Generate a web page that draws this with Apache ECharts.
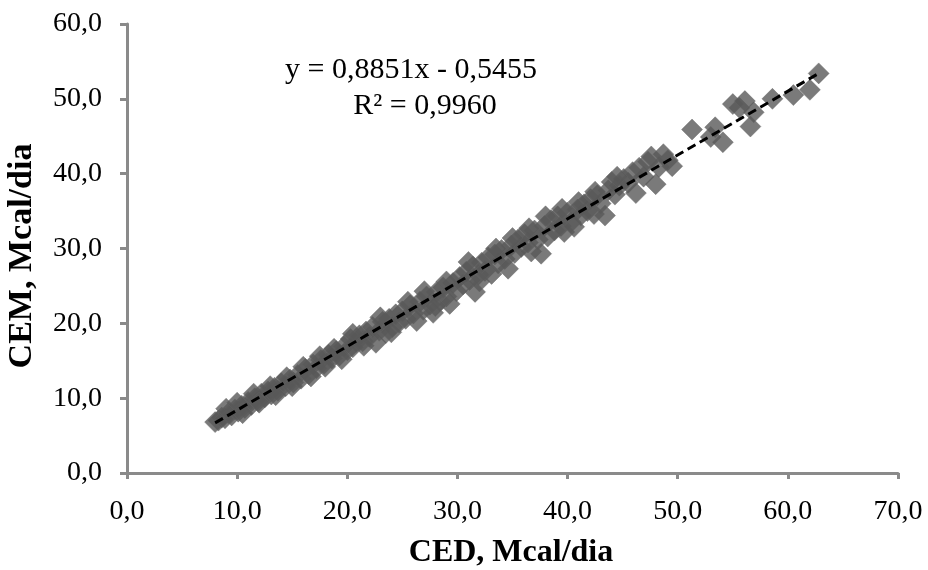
<!DOCTYPE html>
<html>
<head>
<meta charset="utf-8">
<script src="https://cdn.jsdelivr.net/npm/echarts@6/dist/echarts.min.js"></script>
<style>html,body{margin:0;padding:0;background:#fff}#c{width:928px;height:570px}</style>
</head>
<body>
<div id="c"></div>
<script>
// CED (x) and CEM (y), Mcal/dia
const cedValues = [
  8.0,8.3,8.6,8.9,9.2,9.5,9.8,10.1,10.4,10.7,11.0,11.3,11.6,11.9,12.2,12.5,12.8,13.1,13.4,13.7,14.0,14.4,14.8,15.1,15.5,15.8,16.2,16.5,16.9,17.2,17.6,17.9,18.3,18.6,19.0,19.3,19.7,20.0,
  20.3,20.5,20.8,21.1,21.4,21.7,22.0,22.3,22.6,22.9,23.2,23.5,23.8,24.1,24.4,24.7,25.0,25.3,25.7,26.0,26.3,26.6,26.9,27.2,27.5,27.8,28.1,28.4,28.7,29.0,29.3,29.6,29.9,30.2,
  30.5,30.8,31.1,31.4,31.6,31.9,32.2,32.5,32.8,33.1,33.4,33.7,34.0,34.3,34.6,34.9,35.2,35.5,35.8,36.1,36.4,36.7,37.0,37.3,37.6,37.9,38.2,38.5,38.8,39.1,39.4,39.7,40.0,40.3,40.6,40.9,41.2,41.5,41.8,
  42.1,42.4,42.7,43.0,43.4,43.7,44.0,44.3,44.7,45.1,45.5,45.9,46.2,46.5,46.9,47.3,47.6,48.0,48.3,48.7,49.1,49.5,
  51.3,53.0,53.4,54.1,55.0,55.6,56.1,56.6,56.9,58.6,60.5,62.0,62.8,
  9.0,10.0,10.5,11.5,12.0,13.0,13.5,14.5,15.0,16.0,16.7,17.5,18.0,18.8,19.5,20.5,21.5,23.0,24.0,25.5,27.0,28.0,29.0,31.0,32.0,33.5,35.0,36.5,38.0,39.5,41.0,42.5,44.5
];
const cemValues = [
  6.8,7.0,7.4,7.3,8.0,7.7,8.5,8.2,9.0,8.7,9.5,9.1,10.0,9.6,10.6,10.1,10.9,10.5,11.4,11.0,12.0,11.6,12.5,12.1,13.1,12.6,13.9,13.2,14.5,14.0,15.1,14.6,15.8,15.3,16.3,15.7,16.9,16.4,
  17.9,16.8,17.5,18.4,17.6,18.9,18.2,19.5,17.4,19.0,20.2,18.7,20.6,19.5,21.2,20.1,21.6,20.6,22.4,21.3,20.3,22.9,21.8,23.6,22.5,21.4,24.2,23.0,24.8,23.6,22.6,25.4,24.3,26.2,
  25.2,26.9,25.8,27.6,24.2,26.5,28.1,27.0,28.8,26.6,29.2,28.0,29.8,28.6,27.3,30.4,29.4,31.2,30.2,31.9,30.8,29.6,32.4,31.2,29.3,33.0,31.6,33.8,32.4,34.3,33.0,32.2,34.8,33.5,32.9,35.2,34.4,35.9,35.0,
  36.6,34.6,37.1,36.0,34.4,37.8,38.9,37.2,38.4,39.3,38.8,40.2,37.4,40.8,39.6,41.6,42.3,38.6,40.9,42.6,41.8,41.0,
  45.9,44.9,46.2,44.2,49.3,48.8,49.7,46.3,48.2,50.0,50.5,51.2,53.4,
  8.6,9.4,8.0,10.6,9.4,11.6,10.4,12.8,11.6,14.2,12.9,15.6,14.2,16.6,15.2,18.6,17.0,20.8,18.8,22.9,24.3,22.3,25.6,28.2,25.6,30.0,31.4,32.7,34.3,35.3,36.2,37.6,39.6
];
const xTickLabels = ['0,0','10,0','20,0','30,0','40,0','50,0','60,0','70,0'];
const yTickLabels = ['0,0','10,0','20,0','30,0','40,0','50,0','60,0'];
// dashed trend line as drawn in the picture (end points)
const trendX = [8.0, 62.8];
const trendY = [6.7, 53.4];
const equationText = 'y = 0,8851x - 0,5455';
const r2Text = 'R² = 0,9960';
const xTitle = 'CED, Mcal/dia';
const yTitle = 'CEM, Mcal/dia';

const points = cedValues.map((x, i) => [x, cemValues[i]]);
const trend = trendX.map((x, i) => [x, trendY[i]]);

const axisColor = '#8a8a8a';
const font = '"Liberation Serif", "Times New Roman", serif';

const chart = echarts.init(document.getElementById('c'), null, {renderer: 'canvas'});
chart.setOption({
  animation: false,
  grid: {left: 127, right: 30, top: 24, bottom: 97},
  xAxis: {
    type: 'value', min: 0, max: 70, interval: 10,
    axisLine: {show: true, lineStyle: {color: axisColor, width: 3}},
    axisTick: {show: true, length: 6, lineStyle: {color: axisColor, width: 3}},
    axisLabel: {fontFamily: font, fontSize: 28, color: '#000', margin: 25,
      formatter: (v) => xTickLabels[Math.round(v / 10)]},
    splitLine: {show: false}
  },
  yAxis: {
    type: 'value', min: 0, max: 60, interval: 10,
    axisLine: {show: true, lineStyle: {color: axisColor, width: 3}},
    axisTick: {show: true, length: 7, lineStyle: {color: axisColor, width: 3}},
    axisLabel: {fontFamily: font, fontSize: 28, color: '#000', margin: 25,
      formatter: (v) => yTickLabels[Math.round(v / 10)]},
    splitLine: {show: false}
  },
  series: [
    {
      type: 'scatter', data: points, symbol: 'diamond', symbolSize: 21,
      itemStyle: {color: '#595959', borderColor: '#656565', borderWidth: 0.5}
    },
    {
      type: 'line', data: trend, symbol: 'none', z: 5,
      lineStyle: {color: '#000', width: 3, type: [9, 5]}
    }
  ],
  graphic: [
    {type: 'text', x: 411, y: 70,
      style: {text: equationText, fontFamily: font, fontSize: 30, fill: '#000', align: 'center', verticalAlign: 'middle'}},
    {type: 'text', x: 425, y: 106,
      style: {text: r2Text, fontFamily: font, fontSize: 30, fill: '#000', align: 'center', verticalAlign: 'middle'}},
    {type: 'text', x: 511, y: 553,
      style: {text: xTitle, fontFamily: font, fontWeight: 'bold', fontSize: 32, fill: '#000', align: 'center', verticalAlign: 'middle'}},
    {type: 'text', x: 22, y: 256, rotation: Math.PI / 2,
      style: {text: yTitle, fontFamily: font, fontWeight: 'bold', fontSize: 34, fill: '#000', align: 'center', verticalAlign: 'middle'}}
  ]
});
</script>
</body>
</html>
